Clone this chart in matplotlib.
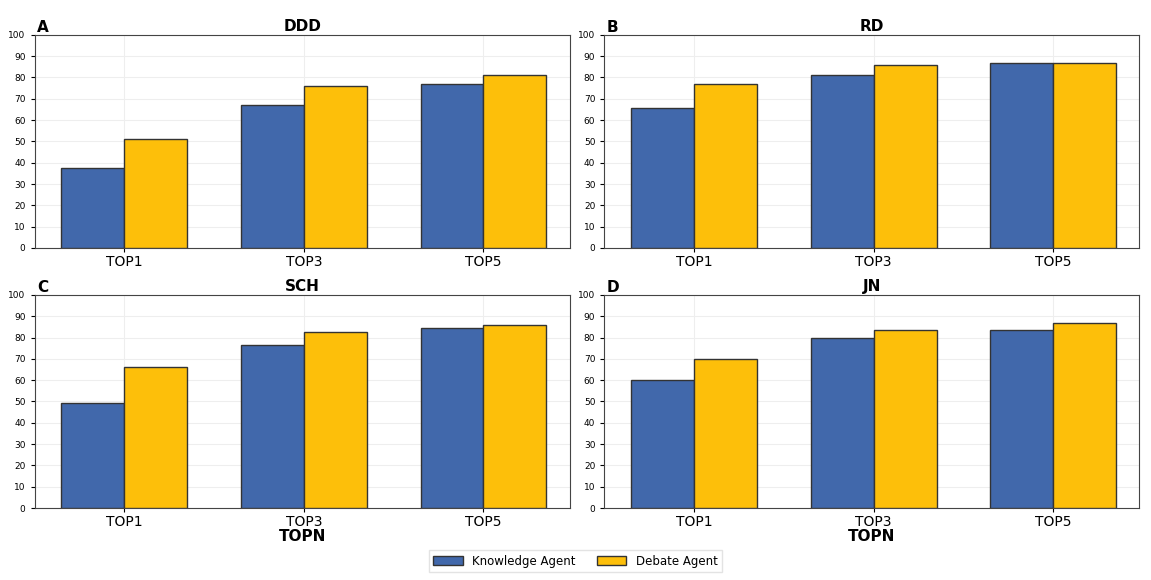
import matplotlib

matplotlib.use("Agg")

import matplotlib.pyplot as plt
import numpy as np

categories = ["TOP1", "TOP3", "TOP5"]
datasets = ["DDD", "RD", "SCH", "JN"]
panel_letters = ["A", "B", "C", "D"]
knowledge = {
    "DDD": [37.3, 67.3, 77.0],
    "RD": [65.8, 81.3, 87.0],
    "SCH": [49.3, 76.7, 84.5],
    "JN": [60.0, 80.0, 83.3],
}
debate = {
    "DDD": [51.3, 76.0, 81.0],
    "RD": [76.8, 85.7, 87.0],
    "SCH": [66.0, 82.5, 85.7],
    "JN": [70.0, 83.3, 86.7],
}

blue = "#4168ab"
yellow = "#fdbf0a"
width = 0.35

fig, axes = plt.subplots(2, 2, figsize=(11.51, 5.8), dpi=100)
x = np.arange(len(categories))

for ax, name, letter in zip(axes.flat, datasets, panel_letters):
    ax.bar(x - width / 2, knowledge[name], width, color=blue, edgecolor="#333333",
           lw=1, label="Knowledge Agent", zorder=3)
    ax.bar(x + width / 2, debate[name], width, color=yellow, edgecolor="#333333",
           lw=1, label="Debate Agent", zorder=3)
    ax.set_ylim(0, 100)
    ax.set_xlim(-0.5, 2.48)
    ax.set_yticks(np.arange(0, 101, 10))
    ax.tick_params(axis="y", labelsize=6.5, length=3)
    ax.set_xticks(x)
    ax.set_xticklabels(categories, fontsize=10)
    ax.tick_params(axis="x", length=3, pad=2)
    ax.grid(True, color="#eeeeee", lw=0.8, zorder=0)
    ax.set_title(name, fontsize=11, fontweight="bold", pad=3)
    ax.text(0.005, 1.0, letter, transform=ax.transAxes, fontsize=11,
            fontweight="bold", va="bottom", ha="left")
    for s in ax.spines.values():
        s.set_color("#444444")
        s.set_linewidth(0.8)

for ax in axes[1]:
    ax.set_xlabel("TOPN", fontsize=11, fontweight="bold", labelpad=0)

handles, labels = axes[0, 0].get_legend_handles_labels()
fig.legend(handles, labels, loc="lower center", ncol=2, fontsize=8.5,
           bbox_to_anchor=(0.5, 0.003), frameon=True, fancybox=False,
           edgecolor="#dddddd", handlelength=2.5, columnspacing=1.8)

plt.subplots_adjust(left=0.03, right=0.99, top=0.94, bottom=0.124,
                    wspace=0.065, hspace=0.22)

plt.savefig("out.png")
